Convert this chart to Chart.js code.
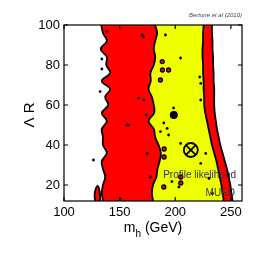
<!DOCTYPE html>
<html>
<head>
<meta charset="utf-8">
<script src="https://cdn.jsdelivr.net/npm/chart.js@4.4.1/dist/chart.umd.min.js"></script>
<style>
  html, body { margin: 0; padding: 0; background: #fff; }
  canvas { display: block; }
</style>
</head>
<body>
<canvas id="chartContainer" width="266" height="266"></canvas>
<script>
// Contour boundaries (m_h in GeV), one value per Lambda R level
const levels      = [100, 96, 92, 88, 84, 80, 76, 72, 68, 64, 60, 56, 52, 48, 44, 40, 36, 32, 28, 24, 20, 16, 12];
const redLeft     = [133.5, 135, 138.5, 133, 138.5, 138, 141.5, 134, 141.5, 137, 139.7, 134, 138.5, 134, 135, 135, 138.5, 134, 135, 137, 135, 134, 135];
const yellowLeft  = [182, 183.7, 182, 180.7, 182, 180.7, 177.7, 178, 176, 179, 180.7, 181, 176, 180.7, 182, 185, 187, 186, 184, 183, 180, 179, 180];
const yellowRight = [225.5, 225, 225, 224.5, 224.5, 225, 225, 225.5, 225.5, 226, 226, 227, 228.5, 230, 231.5, 233, 235, 237, 238.5, 240, 241.5, 242.5, 243.5];
const redRight    = [233, 233, 233.5, 233.5, 234, 234, 234.5, 234.5, 235, 235, 235, 235.5, 236.5, 237.5, 239, 240.5, 242.5, 244.5, 246.5, 248, 249.5, 250.5, 251.5];

// small red patch at the lower left
const patchX = [128, 127.5, 128.5, 130.5, 132, 132.5, 132.5];
const patchY = [12, 15, 18, 19.5, 17, 14, 12];

// red islands inside the yellow region
const islandX = [188.3, 188.5, 194, 186.7, 190, 190, 205, 205, 189.7];
const islandY = [81.7, 77.5, 77.5, 72.5, 34, 38, 21, 24, 19];

// little black spots
const dotX = [204.8, 222, 222.9, 189.7, 192.7, 194, 186.7, 197, 222.9, 191.2, 222.9, 204.8, 227.4, 203.3, 233.4, 230.4,
              171.6, 173.8, 158, 171.6, 170.2, 167, 156.6, 174.7, 177.7, 150.6, 134, 134, 132.5, 126.5, 198.5, 138.5];
const dotY = [83.5, 74, 62.5, 51, 48.3, 45, 46.7, 21.7, 30.8, 95, 70.8, 40.8, 35.8, 19, 15.8, 23.3,
              62.5, 55, 50, 94, 95, 63.4, 50, 35.8, 24, 13.4, 83, 78, 66.7, 32.5, 58.5, 96.7];

// best fit point and posterior mean
const bestX = [198.7];
const bestY = [55];
const meanX = [214];
const meanY = [37.5];

const xTicks = [100, 150, 200, 250];
const yTicks = [20, 40, 60, 80, 100];

const RED = '#ff0000';
const YELLOW = '#eeff00';
const FONT = '"Liberation Sans", Arial, sans-serif';

function band(left, right) {
  const last = levels.length - 1;
  const pts = [{ x: left[0], y: 104 }];
  levels.forEach((v, i) => pts.push({ x: left[i], y: v }));
  pts.push({ x: left[last], y: 8 }, { x: right[last], y: 8 });
  for (let i = last; i >= 0; i--) pts.push({ x: right[i], y: levels[i] });
  pts.push({ x: right[0], y: 104 });
  return pts;
}

function zip(xs, ys) {
  return xs.map((x, i) => ({ x: x, y: ys[i] }));
}

// frame with inward ticks on all four sides
const framePlugin = {
  id: 'frame',
  afterDatasetsDraw(chart) {
    const { ctx, chartArea: a, scales } = chart;
    ctx.save();
    ctx.strokeStyle = '#000';
    ctx.lineWidth = 1.2;
    ctx.strokeRect(a.left, a.top, a.right - a.left, a.bottom - a.top);
    ctx.beginPath();
    xTicks.forEach(v => {
      const px = scales.x.getPixelForValue(v);
      ctx.moveTo(px, a.bottom); ctx.lineTo(px, a.bottom - 4);
      ctx.moveTo(px, a.top); ctx.lineTo(px, a.top + 4);
    });
    yTicks.forEach(v => {
      const py = scales.y.getPixelForValue(v);
      ctx.moveTo(a.left, py); ctx.lineTo(a.left + 4, py);
      ctx.moveTo(a.right, py); ctx.lineTo(a.right - 4, py);
    });
    ctx.stroke();
    ctx.restore();
  },
  afterDraw(chart) {
    const { ctx, chartArea: a } = chart;
    ctx.save();
    ctx.fillStyle = '#000';
    ctx.textBaseline = 'alphabetic';

    // x title: m_h (GeV)
    ctx.font = '14px ' + FONT;
    const wM = ctx.measureText('m').width;
    const wG = ctx.measureText(' (GeV)').width;
    ctx.font = '10px ' + FONT;
    const wH = ctx.measureText('h').width;
    let x0 = (a.left + a.right) / 2 - (wM + wH + wG) / 2;
    ctx.font = '14px ' + FONT;
    ctx.fillText('m', x0, 232);
    ctx.font = '10px ' + FONT;
    ctx.fillText('h', x0 + wM, 237);
    ctx.font = '14px ' + FONT;
    ctx.fillText(' (GeV)', x0 + wM + wH, 232);

    // y title
    ctx.save();
    ctx.translate(30, (a.top + a.bottom) / 2 + 2);
    ctx.rotate(-Math.PI / 2);
    ctx.textAlign = 'center';
    ctx.textBaseline = 'middle';
    ctx.font = '15px ' + FONT;
    ctx.fillText('\u039B R', 0, 0);
    ctx.restore();

    // labels inside the plot
    ctx.textAlign = 'right';
    ctx.fillStyle = '#333';
    ctx.font = '10px ' + FONT;
    ctx.fillText('Profile likelihood', 236, 178);
    ctx.fillText('MUED', 235, 196);

    ctx.fillStyle = '#444';
    ctx.font = 'italic 6px ' + FONT;
    ctx.fillText('Bertone et al (2010)', 242, 17);
    ctx.restore();
  }
};

const ctx = document.getElementById('chartContainer').getContext('2d');
const chart = new Chart(ctx, {
  type: 'scatter',
  data: {
    datasets: [
      { data: zip(meanX, meanY), pointStyle: 'crossRot', pointRadius: 7, borderColor: '#000', borderWidth: 1.8, clip: 0 },
      { data: zip(meanX, meanY), pointStyle: 'circle', pointRadius: 7, backgroundColor: 'rgba(0,0,0,0)', borderColor: '#000', borderWidth: 1.8, clip: 0 },
      { data: zip(bestX, bestY), pointStyle: 'circle', pointRadius: 4, backgroundColor: '#000', borderColor: '#000', borderWidth: 0, clip: 0 },
      { data: zip(dotX, dotY), pointStyle: 'circle', pointRadius: 1.4, backgroundColor: '#000', borderColor: '#000', borderWidth: 0, clip: 0 },
      { data: zip(islandX, islandY), pointStyle: 'circle', pointRadius: 2, backgroundColor: RED, borderColor: '#000', borderWidth: 1.3, clip: 0 },
      { data: zip(patchX, patchY), showLine: true, fill: 'shape', tension: 0.4, pointRadius: 0, backgroundColor: RED, borderColor: '#000', borderWidth: 1.8, clip: 0 },
      { data: band(yellowLeft, yellowRight), showLine: true, fill: 'shape', tension: 0.4, pointRadius: 0, backgroundColor: YELLOW, borderColor: '#000', borderWidth: 1.8, clip: 0 },
      { data: band(redLeft, redRight), showLine: true, fill: 'shape', tension: 0.4, pointRadius: 0, backgroundColor: RED, borderColor: '#000', borderWidth: 1.8, clip: 0 }
    ]
  },
  options: {
    responsive: false,
    animation: false,
    devicePixelRatio: 1,
    events: [],
    layout: { padding: { top: 25, right: 24, left: 0, bottom: 0 } },
    plugins: { legend: { display: false }, tooltip: { enabled: false } },
    scales: {
      x: {
        type: 'linear', min: 100, max: 260,
        afterBuildTicks: s => { s.ticks = xTicks.map(v => ({ value: v })); },
        afterFit: s => { s.height = 65; },
        grid: { display: false, drawTicks: false },
        border: { display: false },
        ticks: { color: '#000', padding: 4, font: { family: FONT, size: 13 } }
      },
      y: {
        type: 'linear', min: 12, max: 100,
        afterBuildTicks: s => { s.ticks = yTicks.map(v => ({ value: v })); },
        afterFit: s => { s.width = 64; },
        grid: { display: false, drawTicks: false },
        border: { display: false },
        ticks: { color: '#000', padding: 4, font: { family: FONT, size: 13 } }
      }
    }
  },
  plugins: [framePlugin]
});
</script>
</body>
</html>
